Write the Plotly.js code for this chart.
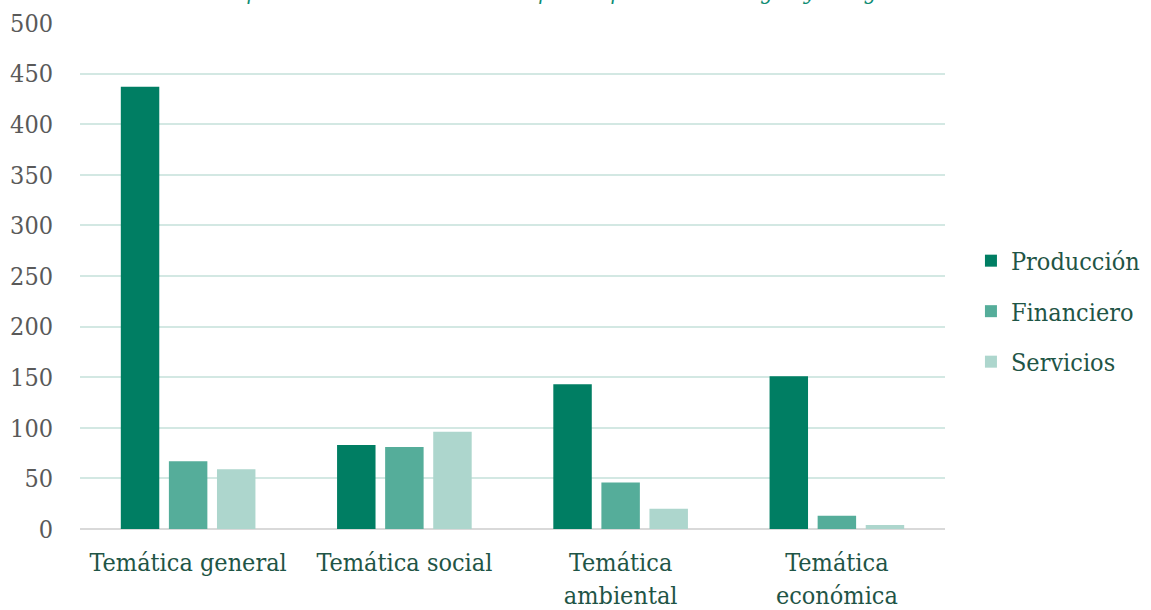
<!DOCTYPE html>
<html>
<head>
<meta charset="utf-8">
<script src="https://cdn.plot.ly/plotly-3.0.1.min.js"></script>
<style>
  html, body { margin: 0; padding: 0; background: #ffffff; }
  #chart { width: 1151px; height: 610px; }
</style>
</head>
<body>
<div id="chart"></div>
<script>
// Report themes by company sector
const categories = ["Temática general", "Temática social", "Temática<br>ambiental", "Temática<br>económica"];
const seriesNames = ["Producción", "Financiero", "Servicios"];
const produccion = [437, 83, 143, 151];
const financiero = [67, 81, 46, 13];
const servicios = [59, 96, 20, 4];
const yTicks = [0, 50, 100, 150, 200, 250, 300, 350, 400, 450, 500];
const titleText = "Temáticas reportadas en memorias de empresas por área de origen y categoría";

const colors = ["#007E63", "#55AD9A", "#ADD6CD"];
const serif = "'DejaVu Serif Condensed', 'Liberation Serif', serif";

const values = [produccion, financiero, servicios];
const traces = seriesNames.map((name, i) => ({
  type: "bar",
  name: name,
  legendgroup: name,
  x: categories,
  y: values[i],
  marker: { color: colors[i] },
  hoverinfo: "x+y+name"
}));

const layout = {
  width: 1151,
  height: 610,
  margin: { l: 80, r: 206, t: 23, b: 81, autoexpand: false },
  paper_bgcolor: "#ffffff",
  plot_bgcolor: "#ffffff",
  barmode: "group",
  bargap: 0.333,
  bargroupgap: 0.2,
  font: { family: serif, size: 25, color: "#595959" },
  xaxis: {
    type: "category",
    tickfont: { family: serif, size: 25, color: "#1F5546" },
    showgrid: false,
    showline: false,
    ticks: "",
    ticklabelstandoff: 16
  },
  yaxis: {
    range: [0, 500],
    tickvals: yTicks,
    ticktext: yTicks.map(String),
    tickfont: { family: serif, size: 25, color: "#595959" },
    showgrid: true,
    gridcolor: "#D3E8E3",
    gridwidth: 2,
    zeroline: true,
    zerolinecolor: "#D9D9D9",
    zerolinewidth: 2,
    showline: false,
    ticks: "",
    ticklabelstandoff: 26
  },
  legend: {
    x: 1.03,
    y: 0.43,
    xanchor: "left",
    yanchor: "middle",
    font: { family: serif, size: 25, color: "#1F5546" },
    itemwidth: 30,
    tracegroupgap: 15,
    bgcolor: "rgba(0,0,0,0)"
  },
  annotations: [{
    text: titleText,
    xref: "paper",
    yref: "paper",
    x: 0.505,
    y: 1,
    xanchor: "center",
    yanchor: "bottom",
    yshift: 17,
    showarrow: false,
    font: { family: serif, size: 22, color: "#0E8C73", style: "italic" }
  }]
};

Plotly.newPlot("chart", traces, layout, { displayModeBar: false, staticPlot: true });
</script>
</body>
</html>
